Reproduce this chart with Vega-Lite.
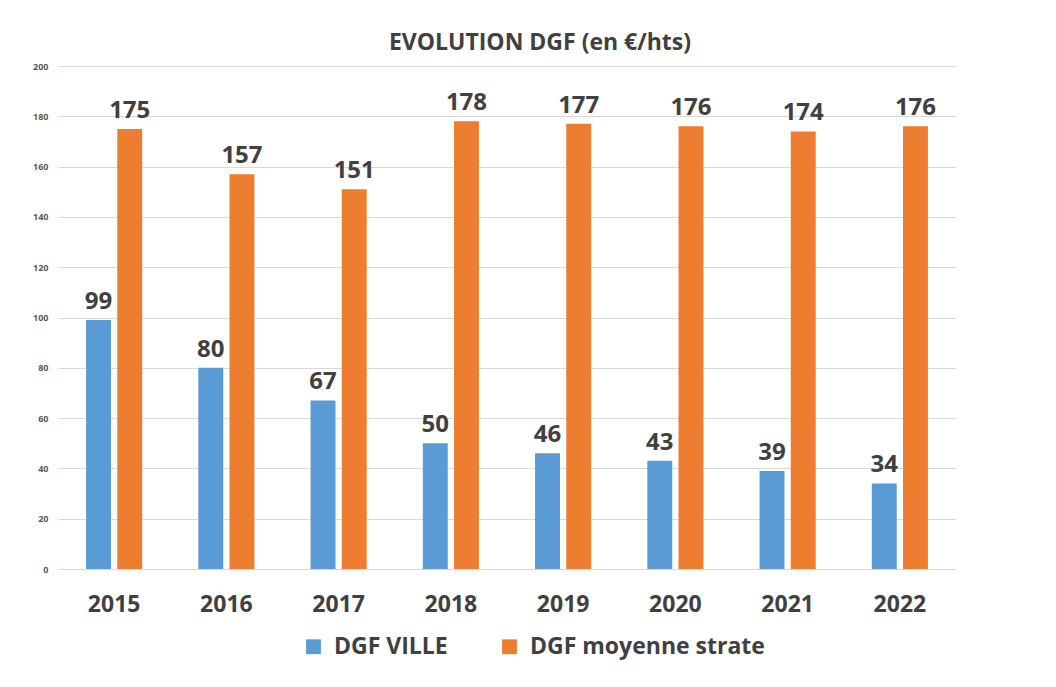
{
  "$schema": "https://vega.github.io/schema/vega-lite/v6.json",
  "autosize": {"type": "none"},
  "padding": {"left": 58, "top": 66, "right": 100, "bottom": 118},
  "width": 898,
  "height": 503,
  "background": "white",
  "config": {
    "font": "Open Sans",
    "view": {"stroke": null}
  },
  "title": {
    "text": "EVOLUTION DGF (en €/hts)",
    "fontSize": 23,
    "fontWeight": "bold",
    "color": "#404040",
    "anchor": "middle",
    "dx": 33,
    "offset": 7,
    "font": "Open Sans"
  },
  "data": {
    "values": [
      {"annee": "2015", "serie": "DGF VILLE", "valeur": 99},
      {"annee": "2015", "serie": "DGF moyenne strate", "valeur": 175},
      {"annee": "2016", "serie": "DGF VILLE", "valeur": 80},
      {"annee": "2016", "serie": "DGF moyenne strate", "valeur": 157},
      {"annee": "2017", "serie": "DGF VILLE", "valeur": 67},
      {"annee": "2017", "serie": "DGF moyenne strate", "valeur": 151},
      {"annee": "2018", "serie": "DGF VILLE", "valeur": 50},
      {"annee": "2018", "serie": "DGF moyenne strate", "valeur": 178},
      {"annee": "2019", "serie": "DGF VILLE", "valeur": 46},
      {"annee": "2019", "serie": "DGF moyenne strate", "valeur": 177},
      {"annee": "2020", "serie": "DGF VILLE", "valeur": 43},
      {"annee": "2020", "serie": "DGF moyenne strate", "valeur": 176},
      {"annee": "2021", "serie": "DGF VILLE", "valeur": 39},
      {"annee": "2021", "serie": "DGF moyenne strate", "valeur": 174},
      {"annee": "2022", "serie": "DGF VILLE", "valeur": 34},
      {"annee": "2022", "serie": "DGF moyenne strate", "valeur": 176}
    ]
  },
  "encoding": {
    "x": {
      "field": "annee",
      "type": "nominal",
      "scale": {"paddingInner": 0.5, "paddingOuter": 0.25},
      "axis": {
        "title": null,
        "labelAngle": 0,
        "labelFontSize": 23,
        "labelFontWeight": "bold",
        "labelColor": "#404040",
        "labelPadding": 24,
        "domain": false,
        "ticks": false
      }
    },
    "xOffset": {
      "field": "serie",
      "type": "nominal",
      "sort": ["DGF VILLE", "DGF moyenne strate"],
      "scale": {"paddingInner": 0.2}
    },
    "y": {
      "field": "valeur",
      "type": "quantitative",
      "scale": {"domain": [0, 200]},
      "axis": {
        "title": null,
        "values": [0, 20, 40, 60, 80, 100, 120, 140, 160, 180, 200],
        "labelFontSize": 9,
        "labelFontWeight": "bold",
        "labelColor": "#595959",
        "labelPadding": 10,
        "domain": false,
        "ticks": false,
        "gridColor": "#d9d9d9",
        "gridWidth": 1
      }
    }
  },
  "layer": [
    {
      "mark": {"type": "bar"},
      "encoding": {
        "color": {
          "field": "serie",
          "type": "nominal",
          "sort": ["DGF VILLE", "DGF moyenne strate"],
          "scale": {"domain": ["DGF VILLE", "DGF moyenne strate"], "range": ["#5B9BD5", "#ED7D31"]},
          "legend": {
            "title": null,
            "orient": "none",
            "direction": "horizontal",
            "legendX": 244,
            "legendY": 569,
            "symbolType": "square",
            "symbolSize": 220,
            "symbolStrokeWidth": 0,
            "labelFontSize": 23,
            "labelFontWeight": "bold",
            "labelColor": "#404040",
            "labelOffset": 9,
            "labelLimit": 0,
            "columnPadding": 50
          }
        }
      }
    },
    {
      "mark": {"type": "text", "baseline": "alphabetic", "dy": -11, "fontSize": 24, "fontWeight": "bold", "color": "#404040"},
      "encoding": {
        "text": {"field": "valeur", "type": "quantitative"}
      }
    }
  ]
}
